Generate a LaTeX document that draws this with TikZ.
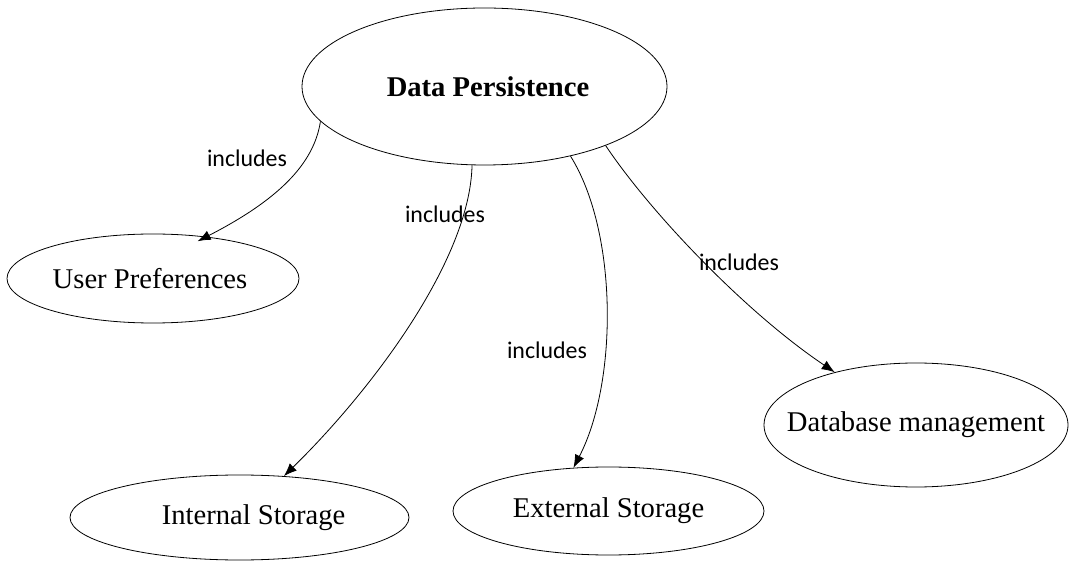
\documentclass[tikz,border=0pt]{standalone}
\usepackage{fontspec}
\setmainfont{Liberation Serif}
\newfontfamily\labelfont{Carlito}
\usetikzlibrary{shapes.geometric,arrows.meta}

% text that does not widen the ellipse around it
\newcommand{\inbubble}[1]{\makebox[0pt]{#1}}

\begin{document}
\begin{tikzpicture}[x=1pt,y=1pt,
  bubble/.style={ellipse, draw, line width=0.8pt, inner sep=0pt,
                 font=\fontsize{28.6}{34}\selectfont},
  rel/.style={line width=0.8pt, -{Latex[length=13pt,width=10pt]}},
  tag/.style={font=\labelfont\fontsize{23.9}{28}\selectfont, inner sep=0pt}]
\useasboundingbox (0,0) rectangle (1070,562);

% concepts
\node[bubble, minimum width=365pt, minimum height=157pt] (dp) at (484.5,475.5) {\inbubble{\hspace*{7pt}\textbf{Data Persistence}}};
\node[bubble, minimum width=292pt, minimum height=89pt]  (up) at (153,283.5)   {\inbubble{User Preferences\hspace*{6pt}}};
\node[bubble, minimum width=339pt, minimum height=85pt]  (is) at (239.5,44.5)  {\inbubble{\hspace*{28pt}Internal Storage}};
\node[bubble, minimum width=311pt, minimum height=88pt]  (es) at (608.5,51)    {\inbubble{External Storage}};
\node[bubble, minimum width=304pt, minimum height=124pt] (db) at (916,137)     {\inbubble{Database management}};

% relations
\draw[rel, shorten >=-10pt] (dp.192) .. controls (314,398) and (278,362) .. (up.38.7);
\draw[rel] (dp.261) .. controls (470,300) and (368,168) .. (is.43);
\draw[rel] (dp.321.5) .. controls (618,330) and (618,180) .. (es.129);
\draw[rel] (dp.334) .. controls (650,350) and (745,250) .. (db.147.4);

% relation labels
\node[tag] (t1) at (247,404) {includes};
\node[tag] (t2) at (445,348) {includes};
\node[tag] (t3) at (739,300) {includes};
\node[tag] (t4) at (547,212) {includes};
\end{tikzpicture}
\end{document}
